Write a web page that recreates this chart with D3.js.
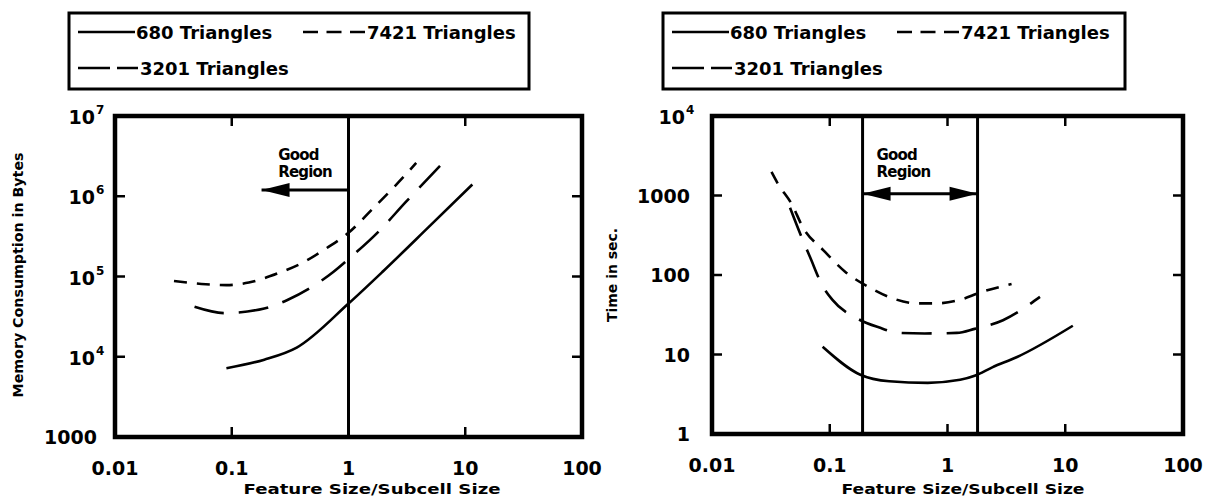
<!DOCTYPE html>
<html><head><meta charset="utf-8">
<script src="https://cdn.jsdelivr.net/npm/d3@7"></script>
<style>body{margin:0;background:#fff} svg{display:block}</style>
</head><body>
<svg id="chart" width="1209" height="499"></svg>
<script>
// ---------------- data ----------------
const seriesNames = ["680 Triangles", "3201 Triangles", "7421 Triangles"];
const xTicks = [0.01, 0.1, 1, 10, 100];
const xTickLabels = ["0.01", "0.1", "1", "10", "100"];
const memTicks = [1e3, 1e4, 1e5, 1e6, 1e7];
const memTickLabels = [["1000", ""], ["10", "4"], ["10", "5"], ["10", "6"], ["10", "7"]];
const timeTicks = [1, 10, 100, 1000, 1e4];
const timeTickLabels = [["1", ""], ["10", ""], ["100", ""], ["1000", ""], ["10", "4"]];

// Memory consumption (bytes) vs feature size / subcell size
const mem680 = [[0.09, 7200], [0.19, 9200], [0.36, 13000], [1, 46000], [2, 118000], [5, 430000], [11.5, 1400000]];
const mem3201 = [[0.048, 42000], [0.087, 35000], [0.19, 40000], [0.3, 51000], [0.74, 114000], [1, 165000], [1.8, 360000], [3.1, 850000], [6.1, 2400000]];
const mem7421 = [[0.032, 88000], [0.06, 80000], [0.09, 78000], [0.14, 84000], [0.25, 110000], [0.41, 150000], [0.65, 226000], [1, 350000], [1.63, 710000], [2.5, 1340000], [3.8, 2600000]];

// Time (sec) vs feature size / subcell size
const time680 = [[0.087, 12.5], [0.18, 5.6], [0.32, 4.6], [0.68, 4.4], [1.28, 4.8], [1.7, 5.4], [2.4, 6.9], [3.9, 9.3], [11.6, 23]];
const time3201 = [[0.046, 700], [0.059, 275], [0.068, 168], [0.086, 75], [0.105, 49], [0.174, 28], [0.26, 22], [0.39, 18.7], [0.64, 18.4], [1.2, 18.7], [1.7, 21], [2.96, 27], [6.1, 53]];
const time7421 = [[0.032, 1980], [0.036, 1435], [0.048, 760], [0.059, 400], [0.088, 206], [0.135, 110], [0.22, 69], [0.34, 51], [0.55, 44], [0.81, 44], [1.35, 50], [1.82, 59], [3.5, 77]];

const memGoodBounds = [1];
const timeGoodBounds = [0.19, 1.8];
const goodText = ["Good", "Region"];

// ---------------- drawing ----------------
const svg = d3.select("#chart");
const FONT = "'DejaVu Sans', Arial, sans-serif";
const dashes = [null, "30,15", "13,10"];

function panel(cfg) {
  const x = d3.scaleLog().domain([0.01, 100]).range(cfg.xr);
  const y = d3.scaleLog().domain(cfg.yd).range(cfg.yr);
  const g = svg.append("g");

  // data lines
  const line = d3.line().x(d => x(d[0])).y(d => y(d[1])).curve(d3.curveMonotoneX);
  cfg.series.forEach((s, i) => {
    g.append("path").attr("d", line(s)).attr("fill", "none").attr("stroke", "#000")
      .attr("stroke-width", 2.6).attr("stroke-dasharray", dashes[i]);
  });

  // good region boundaries
  cfg.bounds.forEach(b => {
    g.append("line").attr("x1", x(b)).attr("x2", x(b)).attr("y1", cfg.yr[0]).attr("y2", cfg.yr[1])
      .attr("stroke", "#000").attr("stroke-width", 3);
  });

  // ticks (inward) on all four sides
  const tl = 10;
  xTicks.slice(1, -1).forEach(t => {
    g.append("line").attr("x1", x(t)).attr("x2", x(t)).attr("y1", cfg.yr[0]).attr("y2", cfg.yr[0] - tl).attr("stroke", "#000").attr("stroke-width", 2.5);
    g.append("line").attr("x1", x(t)).attr("x2", x(t)).attr("y1", cfg.yr[1]).attr("y2", cfg.yr[1] + tl).attr("stroke", "#000").attr("stroke-width", 2.5);
  });
  cfg.yTicks.slice(1, -1).forEach(t => {
    g.append("line").attr("x1", cfg.xr[0]).attr("x2", cfg.xr[0] + tl).attr("y1", y(t)).attr("y2", y(t)).attr("stroke", "#000").attr("stroke-width", 2.5);
    g.append("line").attr("x1", cfg.xr[1]).attr("x2", cfg.xr[1] - tl).attr("y1", y(t)).attr("y2", y(t)).attr("stroke", "#000").attr("stroke-width", 2.5);
  });

  // frame
  g.append("rect").attr("x", cfg.xr[0]).attr("y", cfg.yr[1])
    .attr("width", cfg.xr[1] - cfg.xr[0]).attr("height", cfg.yr[0] - cfg.yr[1])
    .attr("fill", "none").attr("stroke", "#000").attr("stroke-width", 4.5);

  // x tick labels
  xTicks.forEach((t, i) => {
    g.append("text").attr("x", x(t)).attr("y", cfg.yr[0] + 38).attr("text-anchor", "middle")
      .attr("font-family", FONT).attr("font-weight", "bold").attr("font-size", 19).text(xTickLabels[i]);
  });
  // y tick labels
  cfg.yTicks.forEach((t, i) => {
    const [base, exp] = cfg.yLabels[i];
    if (exp) {
      g.append("text").attr("x", cfg.xr[0] - cfg.expGap).attr("y", y(t) + 8).attr("text-anchor", "end")
        .attr("font-family", FONT).attr("font-weight", "bold").attr("font-size", 19).text(base);
      g.append("text").attr("x", cfg.xr[0] - cfg.expGap + 1).attr("y", y(t) - 2)
        .attr("font-family", FONT).attr("font-weight", "bold").attr("font-size", 12).text(exp);
    } else {
      g.append("text").attr("x", cfg.xr[0] - cfg.plainGap).attr("y", y(t) + 7).attr("text-anchor", "end")
        .attr("font-family", FONT).attr("font-weight", "bold").attr("font-size", 19).text(base);
    }
  });

  // axis titles
  g.append("text").attr("x", cfg.xTitle[0]).attr("y", cfg.xTitle[1]).attr("text-anchor", "middle")
    .attr("font-family", FONT).attr("font-weight", "bold").attr("font-size", 14)
    .attr("textLength", cfg.xTitle[2]).attr("lengthAdjust", "spacingAndGlyphs").text("Feature Size/Subcell Size");
  g.append("text").attr("transform", `translate(${cfg.yTitle[0]},${cfg.yTitle[1]}) rotate(-90)`)
    .attr("text-anchor", "middle").attr("font-family", FONT).attr("font-weight", "bold").attr("font-size", 14)
    .attr("textLength", cfg.yTitle[2]).attr("lengthAdjust", "spacingAndGlyphs").text(cfg.yTitleText);

  // Good region annotation
  const tx = x(0.25);
  g.append("text").attr("x", tx).attr("y", y(cfg.goodY[0])).attr("font-family", FONT).attr("font-weight", "bold")
    .attr("font-size", 15).attr("letter-spacing", -0.8).text(goodText[0]);
  g.append("text").attr("x", tx).attr("y", y(cfg.goodY[1])).attr("font-family", FONT).attr("font-weight", "bold")
    .attr("font-size", 15).attr("letter-spacing", -0.8).text(goodText[1]);
  const ay = y(cfg.arrowY);
  const ax0 = x(cfg.arrow[0]), ax1 = x(cfg.arrow[1]);
  g.append("line").attr("x1", ax0).attr("x2", ax1).attr("y1", ay).attr("y2", ay).attr("stroke", "#000").attr("stroke-width", 3);
  const head = (tip, dir) => `M${tip},${ay} L${tip + dir * 28},${ay - 7} L${tip + dir * 28},${ay + 7} Z`;
  g.append("path").attr("d", head(ax0, 1)).attr("fill", "#000");
  if (cfg.arrowBoth) g.append("path").attr("d", head(ax1, -1)).attr("fill", "#000");

  // legend
  const L = cfg.legend;
  g.append("rect").attr("x", L.x).attr("y", 13).attr("width", L.w).attr("height", 76)
    .attr("fill", "none").attr("stroke", "#000").attr("stroke-width", 3);
  const items = [
    {i: 0, x1: L.x + 9, x2: L.x + 66, tx: L.x + 67, row: 0, dash: null},
    {i: 2, x1: L.x + 234, x2: L.x + 296, tx: L.x + 298, row: 0, dash: "15,8.5"},
    {i: 1, x1: L.x + 9, x2: L.x + 69, tx: L.x + 71, row: 1, dash: "32,7"}
  ];
  items.forEach(it => {
    const yy = 32 + it.row * 36;
    g.append("line").attr("x1", it.x1).attr("x2", it.x2).attr("y1", yy).attr("y2", yy)
      .attr("stroke", "#000").attr("stroke-width", 2.6).attr("stroke-dasharray", it.dash);
    g.append("text").attr("x", it.tx).attr("y", yy + 7).attr("font-family", FONT).attr("font-weight", "bold")
      .attr("font-size", 18).text(seriesNames[it.i]);
  });
}

panel({
  xr: [115, 582], yr: [437, 116], yd: [1e3, 1e7],
  yTicks: memTicks, yLabels: memTickLabels, expGap: 20, plainGap: 18,
  series: [mem680, mem3201, mem7421], bounds: memGoodBounds,
  xTitle: [372, 494, 257], yTitle: [23, 275, 245], yTitleText: "Memory Consumption in Bytes",
  goodY: [2.8e6, 1.74e6], arrowY: 1.2e6, arrow: [0.18, 1], arrowBoth: false,
  legend: {x: 69, w: 460}
});
panel({
  xr: [712, 1183], yr: [434, 116], yd: [1, 1e4],
  yTicks: timeTicks, yLabels: timeTickLabels, expGap: 27, plainGap: 22,
  series: [time680, time3201, time7421], bounds: timeGoodBounds,
  xTitle: [963, 494, 243], yTitle: [617, 275, 94], yTitleText: "Time in sec.",
  goodY: [2800, 1710], arrowY: 1050, arrow: timeGoodBounds, arrowBoth: true,
  legend: {x: 663, w: 462}
});
</script>
</body></html>
